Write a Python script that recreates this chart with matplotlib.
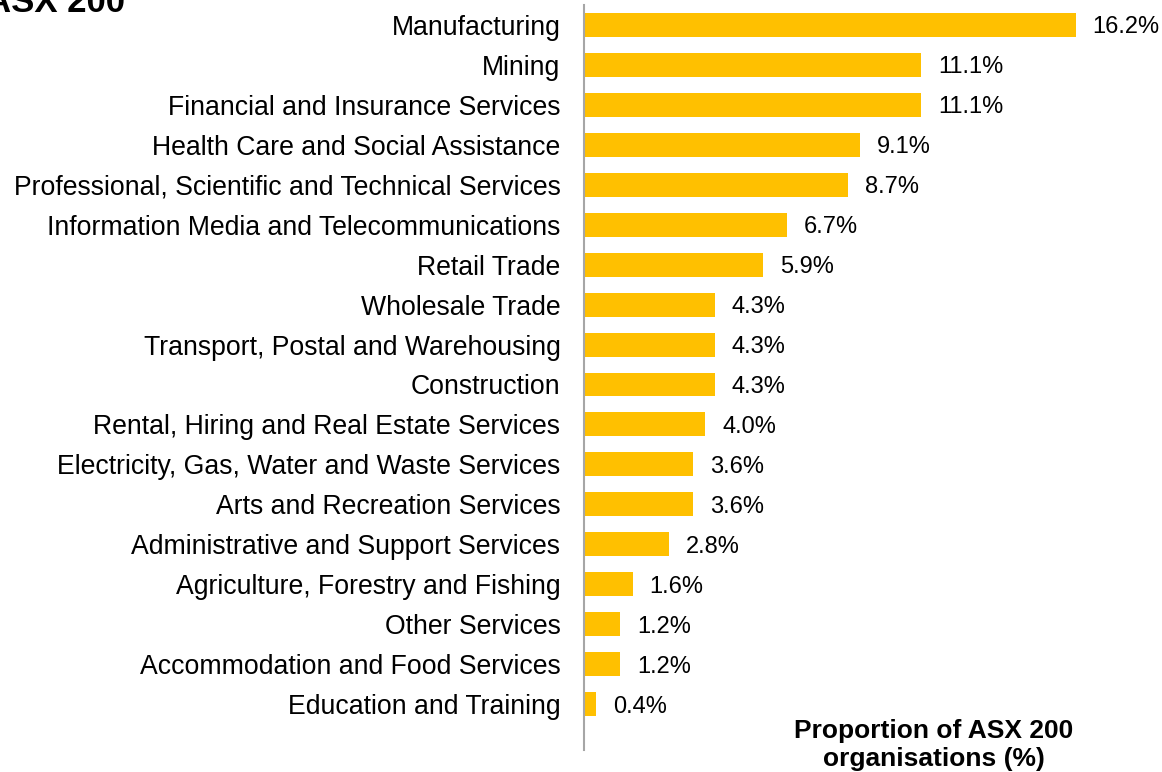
import matplotlib.pyplot as plt

plt.rcParams['font.family'] = ['Liberation Sans', 'DejaVu Sans']

industries = [
    "Manufacturing",
    "Mining",
    "Financial and Insurance Services",
    "Health Care and Social Assistance",
    "Professional, Scientific and Technical Services",
    "Information Media and Telecommunications",
    "Retail Trade",
    "Wholesale Trade",
    "Transport, Postal and Warehousing",
    "Construction",
    "Rental, Hiring and Real Estate Services",
    "Electricity, Gas, Water and Waste Services",
    "Arts and Recreation Services",
    "Administrative and Support Services",
    "Agriculture, Forestry and Fishing",
    "Other Services",
    "Accommodation and Food Services",
    "Education and Training",
]
share = [16.2, 11.1, 11.1, 9.1, 8.7, 6.7, 5.9, 4.3, 4.3, 4.3,
         4.0, 3.6, 3.6, 2.8, 1.6, 1.2, 1.2, 0.4]

W, H = 1162, 772
fig = plt.figure(figsize=(W / 100, H / 100), dpi=100)
# axes placed in pixel terms: left edge at the vertical axis line
left, right, top, bottom = 584, 1162, 5, 750
ax = fig.add_axes([left / W, 1 - bottom / H, (right - left) / W, (bottom - top) / H])

pos = range(len(industries))
ax.barh(pos, share, height=0.6, color='#FFC000')
ax.set_ylim(18.15, -0.5)
ax.set_xlim(0, (right - left) / 30.37)

for y, v in zip(pos, share):
    ax.text(v + 0.55, y, f"{v:.1f}%", va='center_baseline', ha='left', fontsize=17)

ax.set_yticks(list(pos))
ax.set_yticklabels(industries, fontsize=19.2)
ax.tick_params(axis='y', length=0, pad=17)
ax.set_xticks([])
for s in ['top', 'right', 'bottom']:
    ax.spines[s].set_visible(False)
ax.spines['left'].set_color('#a6a6a6')
ax.spines['left'].set_linewidth(1.5)

fig.text(934 / W, 1 - 745 / H, "Proportion of ASX 200\norganisations (%)",
         ha='center', va='center', fontsize=19, fontweight='bold', linespacing=1.25)
fig.text(125 / W, 1 - 12 / H, "ASX 200", ha='right', va='baseline',
         fontsize=25, fontweight='bold')

fig.savefig('out.png', dpi=100)
